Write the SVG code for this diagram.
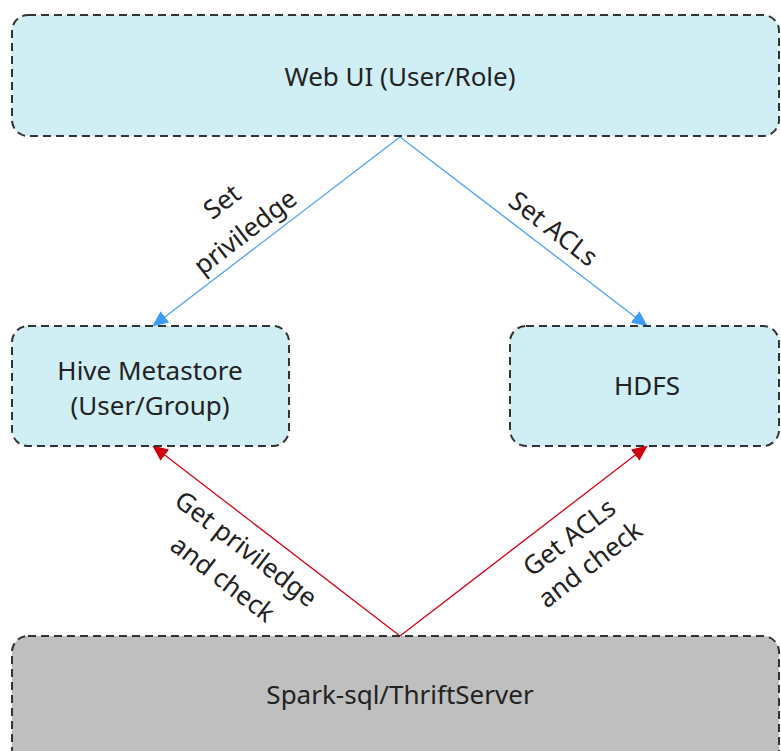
<svg xmlns="http://www.w3.org/2000/svg" width="781" height="751" viewBox="0 0 781 751">
<style>
.box{stroke:#333;stroke-width:2;stroke-dasharray:8,5}
.blue{fill:#d0eff5}
.grey{fill:#bfbfbf}
.t{font-family:"Noto Sans","Open Sans","DejaVu Sans",sans-serif;font-size:26px;fill:#222;text-anchor:middle;dominant-baseline:central}
.cb{stroke:#4da3f7;stroke-width:1.3;fill:none}
.cr{stroke:#d9001b;stroke-width:1.3;fill:none}
</style>
<defs>
<marker id="ab" markerUnits="userSpaceOnUse" markerWidth="16" markerHeight="14" refX="15" refY="7" orient="auto"><path d="M0,0 L16,7 L0,14 Z" fill="#3c9cf5"/></marker>
<marker id="ar" markerUnits="userSpaceOnUse" markerWidth="16" markerHeight="14" refX="15" refY="7" orient="auto"><path d="M0,0 L16,7 L0,14 Z" fill="#d0000f"/></marker>
</defs>
<rect width="781" height="751" fill="#fff"/>
<g id="connectors">
<line class="cb" x1="400" y1="137" x2="153" y2="326" marker-end="url(#ab)"/>
<line class="cb" x1="400" y1="137" x2="647" y2="326" marker-end="url(#ab)"/>
<line class="cr" x1="400" y1="636" x2="153" y2="446" marker-end="url(#ar)"/>
<line class="cr" x1="400" y1="636" x2="647" y2="446" marker-end="url(#ar)"/>
<text class="t" transform="translate(233,216) rotate(-37.6)"><tspan x="0" y="-19">Set</tspan><tspan x="0" y="19">priviledge</tspan></text>
<text class="t" transform="translate(554,228) rotate(37.6)">Set ACLs</text>
<text class="t" transform="translate(235,563) rotate(37.6)"><tspan x="0" y="-19">Get priviledge</tspan><tspan x="0" y="19">and check</tspan></text>
<text class="t" transform="translate(579,550) rotate(-37.6)"><tspan x="0" y="-17">Get ACLs</tspan><tspan x="0" y="17">and check</tspan></text>
</g>
<g id="webui">
<rect class="box blue" x="12" y="15" width="767" height="121" rx="16"/>
<text class="t" x="400" y="76">Web UI (User/Role)</text>
</g>
<g id="hive">
<rect class="box blue" x="12" y="326" width="277" height="120" rx="16"/>
<text class="t" x="150" y="370">Hive Metastore</text>
<text class="t" x="150" y="405">(User/Group)</text>
</g>
<g id="hdfs">
<rect class="box blue" x="510" y="326" width="269" height="120" rx="16"/>
<text class="t" x="647" y="385">HDFS</text>
</g>
<g id="spark">
<rect class="box grey" x="12" y="636" width="767" height="130" rx="16"/>
<text class="t" x="400" y="694">Spark-sql/ThriftServer</text>
</g>
</svg>
